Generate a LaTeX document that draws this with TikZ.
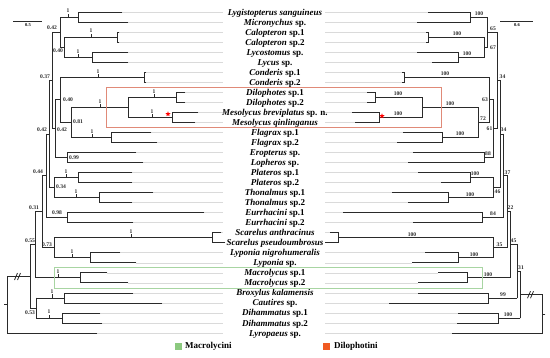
\documentclass[tikz,border=0pt]{standalone}
\usepackage{fontspec}
\setmainfont{Liberation Serif}
\usetikzlibrary{shapes.geometric}
\definecolor{treec}{HTML}{2A2A2A}
\definecolor{guide}{HTML}{DADADA}
\definecolor{redbox}{HTML}{E08A78}
\definecolor{greenbox}{HTML}{A8D5A2}
\definecolor{macgreen}{HTML}{8CC97F}
\definecolor{diloorange}{HTML}{F05A22}
\newcommand\bit[1]{\textbf{\textit{#1}}}
\newcommand\brm[1]{\textbf{#1}}
\begin{document}
\begin{tikzpicture}[x=1pt,y=-1pt,
  tree/.style={draw=treec,line width=0.8pt,line cap=rect},
  guideline/.style={draw=guide,line width=0.5pt},
  taxon/.style={anchor=base,inner sep=0pt,font=\fontsize{9}{10}\selectfont},
  sup/.style={inner sep=0pt,font=\fontsize{5.6}{6}\selectfont\bfseries,text=treec},
  scl/.style={inner sep=0pt,font=\fontsize{4.5}{5}\selectfont\bfseries},
  legendtext/.style={anchor=west,inner sep=0pt,font=\fontsize{9}{10}\selectfont\bfseries},
  redstar/.style={star,star points=5,star point ratio=2.3,fill=red,draw=none,inner sep=0pt,minimum size=5.5pt}]
\useasboundingbox (0,0) rectangle (550,357);
\fill[white] (0,0) rectangle (550,357);

% guide lines
\foreach \y/\l/\r in {12.0/122/428,22.0/128/417,32.1/119/426,42.1/119/426,52.1/128/417,62.2/128/432,
  72.2/146/402,82.2/146/402,92.2/185/367,102.3/185/367,112.3/198/352,122.3/195/355,132.4/151/403,
  142.4/157/397,152.4/136/413,162.5/143/408,172.5/132/418,182.5/132/441,192.5/153/392,202.6/132/408,
  212.6/204/343,222.6/133/413,232.7/221/330,242.7/223/325,252.7/120/425,262.8/136/412,272.8/107/438,
  282.8/128/418,292.9/133/418,302.9/162/389,312.9/100/458,323.0/102/457,333.0/97/452}
  {\draw[guideline] (\l,\y)--(223,\y) (325,\y)--(\r,\y);}

% taxon names
\node[taxon] (n1) at (275,15.0) {\bit{Lygistopterus sanguineus}};
\node[taxon] (n2) at (275,25.0) {\bit{Micronychus} \brm{sp.}};
\node[taxon] (n3) at (275,35.1) {\bit{Calopteron} \brm{sp.1}};
\node[taxon] (n4) at (275,45.1) {\bit{Calopteron} \brm{sp.2}};
\node[taxon] (n5) at (275,55.1) {\bit{Lycostomus} \brm{sp.}};
\node[taxon] (n6) at (275,65.2) {\bit{Lycus} \brm{sp.}};
\node[taxon] (n7) at (275,75.2) {\bit{Conderis} \brm{sp.1}};
\node[taxon] (n8) at (275,85.2) {\bit{Conderis} \brm{sp.2}};
\node[taxon] (n9) at (275,95.2) {\bit{Dilophotes} \brm{sp.1}};
\node[taxon] (n10) at (275,105.3) {\bit{Dilophotes} \brm{sp.2}};
\node[taxon] (n11) at (275,115.3) {\bit{Mesolycus breviplatus} \brm{sp. n.}};
\node[taxon] (n12) at (275,125.3) {\bit{Mesolycus qinlinganus}};
\node[taxon] (n13) at (275,135.4) {\bit{Flagrax} \brm{sp.1}};
\node[taxon] (n14) at (275,145.4) {\bit{Flagrax} \brm{sp.2}};
\node[taxon] (n15) at (275,155.4) {\bit{Eropterus} \brm{sp.}};
\node[taxon] (n16) at (275,165.5) {\bit{Lopheros} \brm{sp.}};
\node[taxon] (n17) at (275,175.5) {\bit{Plateros} \brm{sp.1}};
\node[taxon] (n18) at (275,185.5) {\bit{Plateros} \brm{sp.2}};
\node[taxon] (n19) at (275,195.5) {\bit{Thonalmus} \brm{sp.1}};
\node[taxon] (n20) at (275,205.6) {\bit{Thonalmus} \brm{sp.2}};
\node[taxon] (n21) at (275,215.6) {\bit{Eurrhacini} \brm{sp.1}};
\node[taxon] (n22) at (275,225.6) {\bit{Eurrhacini} \brm{sp.2}};
\node[taxon] (n23) at (275,235.7) {\bit{Scarelus anthracinus}};
\node[taxon] (n24) at (275,245.7) {\bit{Scarelus pseudoumbrosus}};
\node[taxon] (n25) at (275,255.7) {\bit{Lyponia nigrohumeralis}};
\node[taxon] (n26) at (275,265.8) {\bit{Lyponia} \brm{sp.}};
\node[taxon] (n27) at (275,275.8) {\bit{Macrolycus} \brm{sp.1}};
\node[taxon] (n28) at (275,285.8) {\bit{Macrolycus} \brm{sp.2}};
\node[taxon] (n29) at (275,295.9) {\bit{Broxylus kalamensis}};
\node[taxon] (n30) at (275,305.9) {\bit{Cautires} \brm{sp.}};
\node[taxon] (n31) at (275,315.9) {\bit{Dihammatus} \brm{sp.1}};
\node[taxon] (n32) at (275,326.0) {\bit{Dihammatus} \brm{sp.2}};
\node[taxon] (n33) at (275,336.0) {\bit{Lyropaeus} \brm{sp.}};

% ---------------- left tree ----------------
\draw[tree] (122,12)--(78,12)--(78,22)--(128,22) (60,17)--(78,17);
\draw[tree] (64,37.1)--(117,37.1) (117,32.1)--(117,42.1) (117,32.1)--(119,32.1) (117,42.1)--(119,42.1);
\draw[tree] (128,52.1)--(92,52.1)--(92,62.2)--(128,62.2) (64,57.2)--(92,57.2);
\draw[tree] (64,37.1)--(64,57.2) (60,47.1)--(64,47.1);
\draw[tree] (60,17)--(60,47.1) (52,32)--(60,32);
\draw[tree] (60,77.2)--(144,77.2) (144,72.2)--(144,82.2) (144,72.2)--(146,72.2) (144,82.2)--(146,82.2);
\draw[tree] (185,92.2)--(176,92.2)--(176,102.3)--(185,102.3) (128,97.3)--(176,97.3);
\draw[tree] (198,112.3)--(172,112.3)--(172,122.3)--(195,122.3) (128,117.3)--(172,117.3);
\draw[tree] (128,97.3)--(128,117.3) (71,107.3)--(128,107.3);
\draw[tree] (151,132.4)--(111,132.4)--(111,142.4)--(157,142.4) (71,137.4)--(111,137.4);
\draw[tree] (71,107.3)--(71,137.4) (60,122.3)--(71,122.3);
\draw[tree] (60,77.2)--(60,122.3) (55,99.8)--(60,99.8);
\draw[tree] (136,152.4)--(67,152.4)--(67,162.5)--(143,162.5) (55,157.5)--(67,157.5);
\draw[tree] (55,99.8)--(55,157.5) (52,128.6)--(55,128.6);
\draw[tree] (52,32)--(52,128.6) (49,80.3)--(52,80.3);
\draw[tree] (132,172.5)--(78,172.5)--(78,182.5)--(132,182.5) (54,177.5)--(78,177.5);
\draw[tree] (153,192.5)--(99,192.5)--(99,202.6)--(132,202.6) (54,197.5)--(99,197.5);
\draw[tree] (54,177.5)--(54,197.5) (49,187.5)--(54,187.5);
\draw[tree] (49,80.3)--(49,187.5) (46.5,133.9)--(49,133.9);
\draw[tree] (204,212.6)--(67,212.6)--(67,222.6)--(133,222.6) (46.5,217.6)--(67,217.6);
\draw[tree] (46.5,133.9)--(46.5,217.6) (42,175.8)--(46.5,175.8);
\draw[tree] (221,232.7)--(212,232.7)--(212,242.7)--(225,242.7) (54,237.7)--(212,237.7);
\draw[tree] (120,252.7)--(90,252.7)--(90,262.8)--(136,262.8) (54,257.7)--(90,257.7);
\draw[tree] (54,237.7)--(54,257.7) (42,247.7)--(54,247.7);
\draw[tree] (42,175.8)--(42,247.7) (35,211.8)--(42,211.8);
\draw[tree] (107,272.8)--(80,272.8)--(80,282.8)--(128,282.8) (35,277.8)--(80,277.8);
\draw[tree] (35,211.8)--(35,277.8) (30,244.8)--(35,244.8);
\draw[tree] (133,292.9)--(64,292.9)--(64,302.9)--(162,302.9) (36,297.9)--(64,297.9);
\draw[tree] (100,312.9)--(62,312.9)--(62,323)--(102,323) (36,318)--(62,318);
\draw[tree] (36,297.9)--(36,318) (30,308)--(36,308);
\draw[tree] (30,244.8)--(30,308) (7,276.4)--(30,276.4);
\draw[tree] (7,276.4)--(7,333)--(97,333) (4,304.7)--(7,304.7);
\draw[tree,line cap=butt] (14.5,280)--(17.5,273) (17.5,280)--(20.5,273);

% ticks with posterior "1"
\foreach \x/\y [count=\k] in {68/17,91/37.1,78/57.2,98/77.2,100/107.3,154/97.3,152/117.3,92/137.4,
  66/177.5,76/197.5,131/237.7,72/257.7,58/277.8,52/297.9,49/318}
  {\draw[tree,line cap=butt] (\x,\y)--(\x,\y-3.5);
   \node[sup,anchor=south] (tk\k) at (\x,\y-4) {1};}

% left support values
\foreach \x/\y/\t [count=\k] in {52/28/0.42,58/51/0.40,45/76.5/0.37,68/100/0.40,78/122/0.81,
  42/130/0.42,62/129.5/0.42,74/158/0.99,38/172/0.44,61/187/0.34,57/213/0.98,34/208/0.31,
  47/245/0.73,30/241/0.55,30/312.5/0.53}
  {\node[sup] (ls\k) at (\x,\y) {\t};}

% ---------------- right tree ----------------
\draw[tree] (428,12)--(470,12)--(470,22)--(417,22) (470,17)--(487,17);
\draw[tree] (428,37.1)--(484,37.1) (428,32.1)--(428,42.1) (426,32.1)--(428,32.1) (426,42.1)--(428,42.1);
\draw[tree] (417,52.1)--(458,52.1)--(458,62.2)--(432,62.2) (458,57.2)--(484,57.2);
\draw[tree] (484,37.1)--(484,57.2) (484,47.1)--(487,47.1);
\draw[tree] (487,17)--(487,47.1) (487,32)--(497,32);
\draw[tree] (404,77.2)--(489,77.2) (404,72.2)--(404,82.2) (402,72.2)--(404,72.2) (402,82.2)--(404,82.2);
\draw[tree] (367,92.2)--(375,92.2)--(375,102.3)--(367,102.3) (375,97.3)--(422,97.3);
\draw[tree] (352,112.3)--(379,112.3)--(379,122.3)--(355,122.3) (379,117.3)--(422,117.3);
\draw[tree] (422,97.3)--(422,117.3) (422,107.3)--(478,107.3);
\draw[tree] (403,132.4)--(442,132.4)--(442,142.4)--(397,142.4) (442,137.4)--(478,137.4);
\draw[tree] (478,107.3)--(478,137.4) (478,122.3)--(489,122.3);
\draw[tree] (489,77.2)--(489,122.3) (489,99.8)--(493,99.8);
\draw[tree] (413,152.4)--(484,152.4)--(484,162.5)--(408,162.5) (484,157.5)--(493,157.5);
\draw[tree] (493,99.8)--(493,157.5) (493,128.6)--(497,128.6);
\draw[tree] (497,32)--(497,128.6) (497,80.3)--(500,80.3);
\draw[tree] (418,172.5)--(470,172.5)--(470,182.5)--(441,182.5) (470,177.5)--(493,177.5);
\draw[tree] (392,192.5)--(448,192.5)--(448,202.6)--(408,202.6) (448,197.5)--(493,197.5);
\draw[tree] (493,177.5)--(493,197.5) (493,187.5)--(500,187.5);
\draw[tree] (500,80.3)--(500,187.5) (500,133.9)--(503,133.9);
\draw[tree] (343,212.6)--(482,212.6)--(482,222.6)--(413,222.6) (482,217.6)--(503,217.6);
\draw[tree] (503,133.9)--(503,217.6) (503,175.8)--(507,175.8);
\draw[tree] (330,232.7)--(338,232.7)--(338,242.7)--(325,242.7) (338,237.7)--(493,237.7);
\draw[tree] (425,252.7)--(458,252.7)--(458,262.8)--(412,262.8) (458,257.7)--(493,257.7);
\draw[tree] (493,237.7)--(493,257.7) (493,247.7)--(507,247.7);
\draw[tree] (507,175.8)--(507,247.7) (507,211.8)--(510,211.8);
\draw[tree] (438,272.8)--(467,272.8)--(467,282.8)--(418,282.8) (467,277.8)--(510,277.8);
\draw[tree] (510,211.8)--(510,277.8) (510,244.8)--(517,244.8);
\draw[tree] (418,292.9)--(488,292.9)--(488,302.9)--(389,302.9) (488,297.9)--(517,297.9);
\draw[tree] (517,244.8)--(517,297.9) (517,271.4)--(520,271.4);
\draw[tree] (458,312.9)--(498,312.9)--(498,323)--(457,323) (498,318)--(520,318);
\draw[tree] (520,271.4)--(520,318) (520,294.7)--(542,294.7);
\draw[tree] (542,294.7)--(542,333)--(452,333) (542,313.9)--(545,313.9);
\draw[tree,line cap=butt] (527.5,298.2)--(530.5,291.2) (530.5,298.2)--(533.5,291.2);

% right bootstrap values
\foreach \x/\y/\t [count=\k] in {479/13.5/100,457/33.5/100,467/53.5/100,493/28.5/65,493/47.5/67,
  445/74/100,502.5/77/34,398/94/100,398/114/100,450/104/100,460/134/100,483/119/72,485/100/63,
  489.5/128.5/61,503.5/130/34,488/154/88,475/173.5/100,470/194.5/100,497.5/192/46,507.5/173/37,
  493/214/84,510.5/208/22,412/235/100,474/255/100,499.5/245/35,513.5/241/45,488/274.5/100,
  521/268/31,503/295/99,508/315/100}
  {\node[sup] (rs\k) at (\x,\y) {\t};}

% stars
\node[redstar] (st1) at (168,114) {};
\node[redstar] (st2) at (382,116) {};

% boxes
\draw[redbox,line width=0.8pt] (106,87) rectangle (441,127);
\draw[greenbox,line width=0.8pt] (54,267.5) rectangle (482,288);

% scale bars
\draw[tree,line cap=butt] (13,21)--(42,21);
\node[scl] (sb1) at (28,25.5) {0.5};
\draw[tree,line cap=butt] (500,21)--(533,21);
\node[scl] (sb2) at (517,25.5) {0.6};

% legend
\fill[macgreen] (175,343) rectangle (182,350);
\node[legendtext] (lg1) at (185,346.5) {Macrolycini};
\fill[diloorange] (323,343) rectangle (330,350);
\node[legendtext] (lg2) at (334,346.5) {Dilophotini};
\end{tikzpicture}
\end{document}
